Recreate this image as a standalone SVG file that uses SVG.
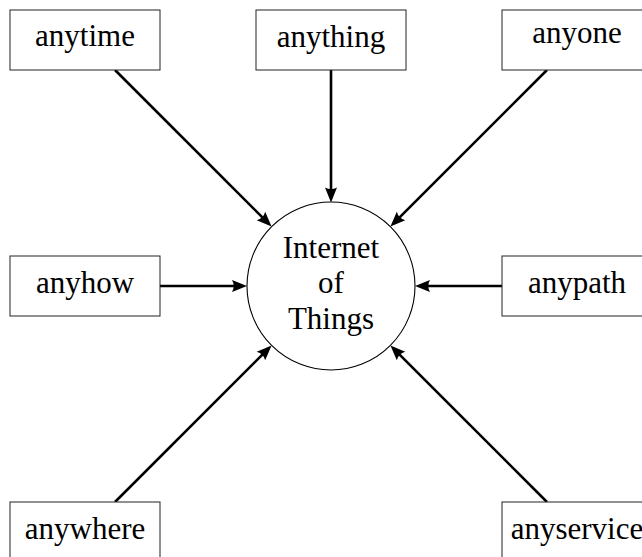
<svg xmlns="http://www.w3.org/2000/svg" width="642" height="557" viewBox="0 0 642 557">
<style>
.box{fill:#fff;stroke:#222;stroke-width:1}
.hub{fill:#fff;stroke:#000;stroke-width:1.1}
.lbl{fill:#000;text-anchor:middle}
.edge{stroke:#000;stroke-width:2.6;fill:none;marker-end:url(#arr)}
</style>
<defs>
<marker id="arr" markerUnits="userSpaceOnUse" orient="auto" overflow="visible" refX="0" refY="0" markerWidth="20" markerHeight="20">
<path d="M8,0 L-7,-6 Q-3.5,0 -7,6 Z" fill="#000"/>
</marker>
</defs>
<rect width="642" height="557" fill="#fff"/>
<g id="connectors">
<line class="edge" x1="115" y1="70" x2="265.9" y2="220.9"/>
<line class="edge" x1="331" y1="70" x2="331" y2="194.5"/>
<line class="edge" x1="547" y1="70" x2="396.1" y2="220.9"/>
<line class="edge" x1="160" y1="286" x2="239" y2="286"/>
<line class="edge" x1="502" y1="286" x2="423" y2="286"/>
<line class="edge" x1="115" y1="502" x2="265.9" y2="351.1"/>
<line class="edge" x1="547" y1="502" x2="396.1" y2="351.1"/>
</g>
<g id="nodes" font-family="Liberation Serif" font-size="31">
<g id="iot">
<circle class="hub" cx="331" cy="286" r="84"/>
<text class="lbl" x="331" y="257.7">Internet</text>
<text class="lbl" x="331" y="293.3">of</text>
<text class="lbl" x="331" y="329">Things</text>
</g>
<g id="anytime">
<rect class="box" x="10" y="10" width="150" height="60"/>
<text class="lbl" x="85" y="46.1">anytime</text>
</g>
<g id="anything">
<rect class="box" x="256" y="10" width="150" height="60"/>
<text class="lbl" x="331" y="47.3">anything</text>
</g>
<g id="anyone">
<rect class="box" x="502" y="10" width="150" height="60"/>
<text class="lbl" x="577" y="43.4">anyone</text>
</g>
<g id="anyhow">
<rect class="box" x="10" y="256" width="150" height="60"/>
<text class="lbl" x="85" y="293.3">anyhow</text>
</g>
<g id="anypath">
<rect class="box" x="502" y="256" width="150" height="60"/>
<text class="lbl" x="577" y="293.3">anypath</text>
</g>
<g id="anywhere">
<rect class="box" x="10" y="502" width="150" height="60"/>
<text class="lbl" x="85" y="539.2">anywhere</text>
</g>
<g id="anyservice">
<rect class="box" x="502" y="502" width="150" height="60"/>
<text class="lbl" x="577" y="538.9">anyservice</text>
</g>
</g>
</svg>
